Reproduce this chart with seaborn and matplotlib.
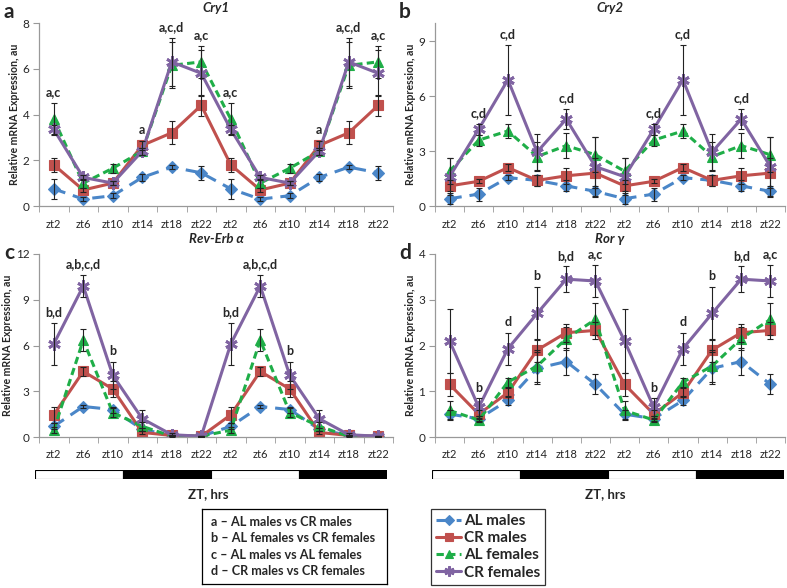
import numpy as np
import pandas as pd
import matplotlib
matplotlib.use("Agg")
import matplotlib.pyplot as plt
from matplotlib.lines import Line2D
import seaborn as sns

# ── Data ──────────────────────────────────────────────────────────────────────
zt_labels = ["zt2", "zt6", "zt10", "zt14", "zt18", "zt22"] * 2
groups = ["AL males", "CR males", "AL females", "CR females"]

# Cry1
cry1_al_m = [0.75, 0.3, 0.45, 1.25, 1.7, 1.45, 0.75, 0.3, 0.45, 1.25, 1.7, 1.45]
cry1_cr_m = [1.8, 0.7, 1.0, 2.65, 3.2, 4.4, 1.8, 0.7, 1.0, 2.65, 3.2, 4.4]
cry1_al_f = [3.8, 1.0, 1.65, 2.4, 6.15, 6.3, 3.8, 1.0, 1.65, 2.4, 6.15, 6.3]
cry1_cr_f = [3.35, 1.25, 1.0, 2.4, 6.3, 5.8, 3.35, 1.25, 1.0, 2.4, 6.3, 5.8]
cry1_al_m_err = [0.45, 0.1, 0.1, 0.15, 0.1, 0.3, 0.45, 0.1, 0.1, 0.15, 0.1, 0.3]
cry1_cr_m_err = [0.3, 0.1, 0.1, 0.2, 0.5, 0.45, 0.3, 0.1, 0.1, 0.2, 0.5, 0.45]
cry1_al_f_err = [0.7, 0.2, 0.2, 0.15, 1.0, 0.7, 0.7, 0.2, 0.2, 0.15, 1.0, 0.7]
cry1_cr_f_err = [0.2, 0.1, 0.1, 0.15, 1.05, 1.0, 0.2, 0.1, 0.1, 0.15, 1.05, 1.0]
cry1_ann = ["a,c", "", "", "a", "a,c,d", "a,c", "a,c", "", "", "a", "a,c,d", "a,c"]

# Cry2
cry2_al_m = [0.4, 0.65, 1.55, 1.4, 1.1, 0.8, 0.4, 0.65, 1.55, 1.4, 1.1, 0.8]
cry2_cr_m = [1.1, 1.35, 2.1, 1.4, 1.65, 1.8, 1.1, 1.35, 2.1, 1.4, 1.65, 1.8]
cry2_al_f = [1.9, 3.6, 4.1, 2.7, 3.3, 2.8, 1.9, 3.6, 4.1, 2.7, 3.3, 2.8]
cry2_cr_f = [1.6, 4.2, 6.9, 2.95, 4.75, 2.15, 1.6, 4.2, 6.9, 2.95, 4.75, 2.15]
cry2_al_m_err = [0.3, 0.35, 0.15, 0.3, 0.3, 0.3, 0.3, 0.35, 0.15, 0.3, 0.3, 0.3]
cry2_cr_m_err = [0.3, 0.1, 0.2, 0.3, 0.45, 0.8, 0.3, 0.1, 0.2, 0.3, 0.45, 0.8]
cry2_al_f_err = [0.7, 0.3, 0.4, 0.8, 0.7, 0.95, 0.7, 0.3, 0.4, 0.8, 0.7, 0.95]
cry2_cr_f_err = [1.0, 0.3, 1.9, 1.0, 0.55, 1.6, 1.0, 0.3, 1.9, 1.0, 0.55, 1.6]
cry2_ann = ["", "c,d", "c,d", "", "c,d", "", "", "c,d", "c,d", "", "c,d", ""]

# Rev-Erb alpha
rev_al_m = [0.7, 2.0, 1.8, 0.5, 0.1, 0.05, 0.7, 2.0, 1.8, 0.5, 0.1, 0.05]
rev_cr_m = [1.45, 4.3, 3.15, 0.3, 0.1, 0.05, 1.45, 4.3, 3.15, 0.3, 0.1, 0.05]
rev_al_f = [0.45, 6.35, 1.6, 0.7, 0.05, 0.05, 0.45, 6.35, 1.6, 0.7, 0.05, 0.05]
rev_cr_f = [6.1, 9.9, 4.05, 1.2, 0.15, 0.05, 6.1, 9.9, 4.05, 1.2, 0.15, 0.05]
rev_al_m_err = [0.2, 0.1, 0.2, 0.1, 0.05, 0.02, 0.2, 0.1, 0.2, 0.1, 0.05, 0.02]
rev_cr_m_err = [0.55, 0.3, 0.55, 0.1, 0.05, 0.02, 0.55, 0.3, 0.55, 0.1, 0.05, 0.02]
rev_al_f_err = [0.2, 0.7, 0.3, 0.3, 0.05, 0.02, 0.2, 0.7, 0.3, 0.3, 0.05, 0.02]
rev_cr_f_err = [1.4, 0.75, 0.9, 0.6, 0.1, 0.02, 1.4, 0.75, 0.9, 0.6, 0.1, 0.02]
rev_ann = ["b,d", "a,b,c,d", "b", "", "", "", "b,d", "a,b,c,d", "b", "", "", ""]

# Ror gamma
ror_al_m = [0.5, 0.4, 0.8, 1.5, 1.65, 1.15, 0.5, 0.4, 0.8, 1.5, 1.65, 1.15]
ror_cr_m = [1.15, 0.5, 0.97, 1.9, 2.28, 2.33, 1.15, 0.5, 0.97, 1.9, 2.28, 2.33]
ror_al_f = [0.58, 0.37, 1.2, 1.55, 2.15, 2.57, 0.58, 0.37, 1.2, 1.55, 2.15, 2.57]
ror_cr_f = [2.1, 0.65, 1.93, 2.7, 3.45, 3.41, 2.1, 0.65, 1.93, 2.7, 3.45, 3.41]
ror_al_m_err = [0.1, 0.05, 0.1, 0.35, 0.3, 0.22, 0.1, 0.05, 0.1, 0.35, 0.3, 0.22]
ror_cr_m_err = [0.25, 0.1, 0.1, 0.25, 0.2, 0.18, 0.25, 0.1, 0.1, 0.25, 0.2, 0.18]
ror_al_f_err = [0.2, 0.05, 0.1, 0.35, 0.25, 0.35, 0.2, 0.05, 0.1, 0.35, 0.25, 0.35]
ror_cr_f_err = [0.7, 0.2, 0.35, 0.58, 0.28, 0.35, 0.7, 0.2, 0.35, 0.58, 0.28, 0.35]
ror_ann = ["", "b", "d", "b", "b,d", "a,c", "", "b", "d", "b", "b,d", "a,c"]

# light / dark bar (in zt-category units)
ld_start = [0, 3, 6, 9]
ld_width = [3, 3, 3, 3]
ld_phase = ["light", "dark", "light", "dark"]

sig_notes = ["a \u2013 AL males vs CR males",
             "b \u2013 AL females vs CR females",
             "c \u2013 AL males vs AL females",
             "d \u2013 CR males vs CR females"]

# ── Style ─────────────────────────────────────────────────────────────────────
sns.set_style("ticks")
plt.rcParams["font.family"] = ["Lato", "DejaVu Sans"]

COLORS = {"AL males": "#4A86C8", "CR males": "#C0504D",
          "AL females": "#1FAE48", "CR females": "#8064A2"}
MARKERS = {"AL males": "D", "CR males": "s",
           "AL females": "^", "CR females": (6, 2, 0)}
MSIZE = {"AL males": 6, "CR males": 7.5, "AL females": 7.5, "CR females": 9}
LSTYLE = {"AL males": (0, (4, 2.6)), "CR males": "-",
          "AL females": (0, (2.4, 1.4)), "CR females": "-"}

W, H = 787, 588
fig = plt.figure(figsize=(W / 100, H / 100), dpi=100)


def px_axes(x0, y0, x1, y1):
    return fig.add_axes([x0 / W, 1 - y1 / H, (x1 - x0) / W, (y1 - y0) / H])


def draw_panel(ax, title, series, errs, ann, ymax, ystep):
    x = np.arange(12)
    df = pd.DataFrame({"zt": np.tile(x, 4),
                       "value": np.concatenate(series),
                       "err": np.concatenate(errs),
                       "group": np.repeat(groups, 12)})
    for g in groups:
        sub = df[df["group"] == g]
        sns.lineplot(data=sub, x="zt", y="value", ax=ax, color=COLORS[g],
                     marker=MARKERS[g], markersize=MSIZE[g],
                     markeredgecolor=COLORS[g],
                     markeredgewidth=2 if g == "CR females" else 0.8,
                     linestyle=LSTYLE[g], linewidth=2.2, zorder=2)
        ax.errorbar(sub["zt"], sub["value"], yerr=sub["err"], fmt="none",
                    ecolor="#222222", elinewidth=0.8, capsize=2.5,
                    capthick=0.8, zorder=3)
    top = (df["value"] + df["err"]).groupby(df["zt"]).max()
    for i, t in enumerate(ann):
        if t:
            ax.text(i, top[i] + ymax * 0.025, t, ha="center", va="bottom",
                    fontsize=9, fontweight="bold")
    ax.set_xlim(-0.5, 11.5)
    ax.set_ylim(0, ymax)
    ax.set_yticks(np.arange(0, ymax + 0.01, ystep))
    ax.set_xticks(x)
    ax.set_xticklabels(zt_labels)
    ax.set_xticks(np.arange(-0.5, 12, 1), minor=True)
    ax.tick_params(axis="x", which="major", length=0, labelsize=8, pad=9)
    ax.tick_params(axis="x", which="minor", length=4, color="#999999")
    ax.tick_params(axis="y", length=4, color="#999999", labelsize=8.5, pad=3)
    ax.set_xlabel("")
    ax.set_ylabel("Relative mRNA Expression, au", fontsize=7.6,
                  fontweight="bold", labelpad=2)
    ax.set_title(title, fontsize=9.5, fontweight="bold", style="italic", pad=8)
    for s in ["top", "right"]:
        ax.spines[s].set_visible(False)
    for s in ["left", "bottom"]:
        ax.spines[s].set_color("#999999")
        ax.spines[s].set_linewidth(0.9)


def draw_ld(ax):
    ax.barh(0, ld_width, left=ld_start, height=1,
            color=["white" if p == "light" else "black" for p in ld_phase],
            edgecolor="black", linewidth=0.8)
    ax.set_xlim(0, 12)
    ax.set_ylim(-0.5, 0.5)
    ax.axis("off")


ax_a = px_axes(39, 23, 393, 206)
draw_panel(ax_a, "Cry1", [cry1_al_m, cry1_cr_m, cry1_al_f, cry1_cr_f],
           [cry1_al_m_err, cry1_cr_m_err, cry1_al_f_err, cry1_cr_f_err],
           cry1_ann, 8, 2)
ax_b = px_axes(435, 23, 785, 206)
draw_panel(ax_b, "Cry2", [cry2_al_m, cry2_cr_m, cry2_al_f, cry2_cr_f],
           [cry2_al_m_err, cry2_cr_m_err, cry2_al_f_err, cry2_cr_f_err],
           cry2_ann, 10, 3)
ax_b.set_yticks([0, 3, 6, 9])
ax_c = px_axes(39, 254, 393, 437)
draw_panel(ax_c, "Rev-Erb \u03b1", [rev_al_m, rev_cr_m, rev_al_f, rev_cr_f],
           [rev_al_m_err, rev_cr_m_err, rev_al_f_err, rev_cr_f_err],
           rev_ann, 12, 3)
ax_d = px_axes(435, 254, 785, 437)
draw_panel(ax_d, "Ror \u03b3", [ror_al_m, ror_cr_m, ror_al_f, ror_cr_f],
           [ror_al_m_err, ror_cr_m_err, ror_al_f_err, ror_cr_f_err],
           ror_ann, 4, 1)

draw_ld(px_axes(35, 470, 387, 479))
draw_ld(px_axes(432, 470, 784, 479))
fig.text(208 / W, 1 - 494 / H, "ZT, hrs", ha="center", va="center",
         fontsize=9.5, fontweight="bold")
fig.text(605 / W, 1 - 494 / H, "ZT, hrs", ha="center", va="center",
         fontsize=9.5, fontweight="bold")

for lab, (xp, yp) in zip("abcd", [(4, 12), (399, 12), (4, 253), (399, 253)]):
    fig.text(xp / W, 1 - yp / H, lab, fontsize=15, fontweight="bold",
             va="center", ha="left")

# significance key box
box = px_axes(202, 509, 387, 584)
box.set_xticks([]); box.set_yticks([])
for s in box.spines.values():
    s.set_color("black"); s.set_linewidth(0.9); s.set_visible(True)
for i, t in enumerate(sig_notes):
    box.text(0.05, 0.83 - i * 0.22, t, transform=box.transAxes,
             fontsize=9.1, fontweight="bold", va="center", ha="left")

# series legend
handles = [Line2D([], [], color=COLORS[g], marker=MARKERS[g],
                  markersize=MSIZE[g] * 0.8, markeredgecolor=COLORS[g],
                  markeredgewidth=2 if g == "CR females" else 0.8,
                  linestyle=LSTYLE[g], linewidth=2.2) for g in groups]
leg = fig.legend(handles, groups, loc="upper left",
                 bbox_to_anchor=(431 / W, 1 - 509 / H), frameon=True,
                 fancybox=False, edgecolor="black", handlelength=1.6,
                 handletextpad=0.2, borderpad=0.35, labelspacing=0.2,
                 borderaxespad=0, prop={"size": 11, "weight": "bold"})
leg.get_frame().set_linewidth(0.9)

fig.savefig("out.png", dpi=100)
